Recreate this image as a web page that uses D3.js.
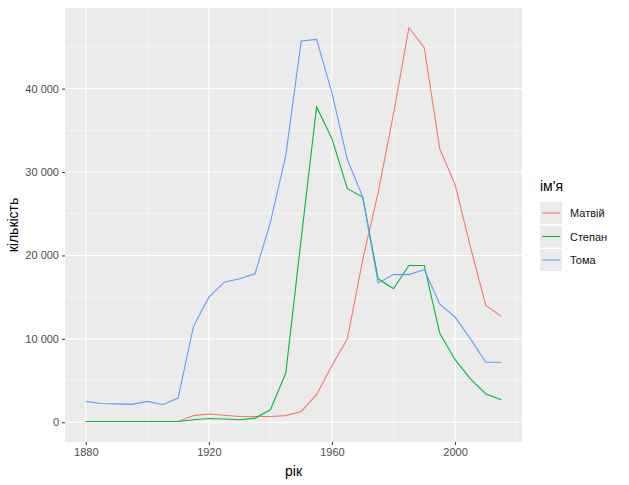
<!DOCTYPE html><html><head><meta charset="utf-8"><script src="https://cdn.jsdelivr.net/npm/d3@7"></script>
<style>body{margin:0;background:#fff}text{font-family:"Liberation Sans",Arial,sans-serif}</style></head><body><svg id="c" width="629" height="485"></svg>
<script>
const years=d3.range(1880,2016,5);
const names=["Матвій","Степан","Тома"];
const colors=["#F8766D","#00BA38","#619CFF"];
const matviy=[100,100,100,100,100,100,100,800,1000,850,700,700,700,800,1300,3300,6800,10000,19500,27500,37000,47300,44900,32800,28500,21000,14000,12700];
const stepan=[100,100,100,100,100,100,100,300,450,400,300,500,1500,5900,22000,37800,34000,28000,27000,17200,16000,18800,18800,10700,7500,5200,3400,2700];
const toma=[2500,2250,2200,2150,2500,2100,2900,11500,15000,16800,17200,17800,24000,32000,45700,45900,39500,31500,27000,16700,17700,17700,18300,14200,12600,10000,7200,7200];
const series=[matviy,stepan,toma];
const xTicks=[1880,1920,1960,2000], yTicks=[0,10000,20000,30000,40000];
const svg=d3.select("#c");
const L=65,R=522,T=8,B=442;
const x=d3.scaleLinear().domain([1873.25,2021.75]).range([L,R]);
const y=d3.scaleLinear().domain([-2365,49665]).range([B,T]);
svg.append("rect").attr("x",L).attr("y",T).attr("width",R-L).attr("height",B-T).attr("fill","#EBEBEB");
const g=svg.append("g");
[1900,1940,1980,2020].forEach(v=>{if(x(v)<R)g.append("line").attr("x1",x(v)).attr("x2",x(v)).attr("y1",T).attr("y2",B).attr("stroke","#fff").attr("stroke-width",0.5)});
[5000,15000,25000,35000,45000].forEach(v=>g.append("line").attr("x1",L).attr("x2",R).attr("y1",y(v)).attr("y2",y(v)).attr("stroke","#fff").attr("stroke-width",0.5));
xTicks.forEach(v=>g.append("line").attr("x1",x(v)).attr("x2",x(v)).attr("y1",T).attr("y2",B).attr("stroke","#fff").attr("stroke-width",1.1));
yTicks.forEach(v=>g.append("line").attr("x1",L).attr("x2",R).attr("y1",y(v)).attr("y2",y(v)).attr("stroke","#fff").attr("stroke-width",1.1));
const line=d3.line().x((d,i)=>x(years[i])).y(d=>y(d));
series.forEach((s,i)=>svg.append("path").attr("d",line(s)).attr("fill","none").attr("stroke",colors[i]).attr("stroke-width",1.1));
const fmt=v=>v===0?"0":d3.format(",")(v).replace(",","\u00a0");
svg.append("g").attr("transform",`translate(0,${B})`).call(d3.axisBottom(x).tickValues(xTicks).tickFormat(d3.format("d")).tickSize(3).tickPadding(3)).call(a=>{a.select(".domain").remove();a.selectAll("line").attr("stroke","#333");a.selectAll("text").attr("fill","#4D4D4D").attr("font-size",11)});
svg.append("g").attr("transform",`translate(${L},0)`).call(d3.axisLeft(y).tickValues(yTicks).tickFormat(fmt).tickSize(3).tickPadding(3)).call(a=>{a.select(".domain").remove();a.selectAll("line").attr("stroke","#333");a.selectAll("text").attr("fill","#4D4D4D").attr("font-size",11)});
svg.append("text").attr("x",(L+R)/2).attr("y",476).attr("text-anchor","middle").attr("font-size",14).text("рік");
svg.append("text").attr("transform",`translate(18,${(T+B)/2}) rotate(-90)`).attr("text-anchor","middle").attr("font-size",14).text("кількість");
svg.append("text").attr("x",540).attr("y",191).attr("font-size",14).text("ім'я");
names.forEach((n,i)=>{const cy=213+i*23.5;
svg.append("rect").attr("x",540).attr("y",cy-11).attr("width",22).attr("height",22).attr("fill","#EBEBEB");
svg.append("line").attr("x1",542).attr("x2",560).attr("y1",cy).attr("y2",cy).attr("stroke",colors[i]).attr("stroke-width",1.1);
svg.append("text").attr("x",570).attr("y",cy+4).attr("font-size",11).attr("fill","#111").text(n);});
</script></body></html>
